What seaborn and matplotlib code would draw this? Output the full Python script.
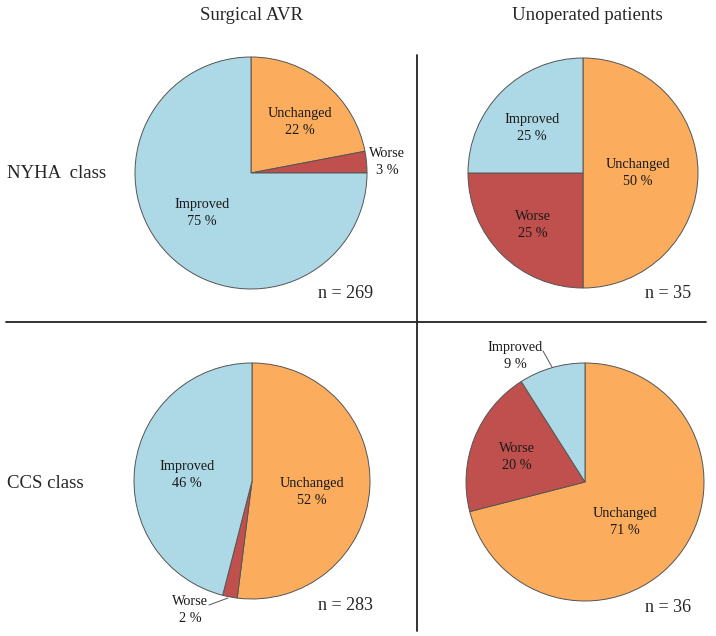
#Cuatro tortas: evolucion de clase NYHA y CCS, AVR quirurgico vs pacientes no operados
import matplotlib
matplotlib.use("Agg")
import matplotlib.pyplot as plt
import seaborn as sns

categorias = ["Unchanged", "Worse", "Improved"]
nyha_quirurgico = [22, 3, 75]
nyha_no_operado = [50, 25, 25]
ccs_quirurgico = [52, 2, 46]
ccs_no_operado = [71, 20, 9]
n_pacientes = [269, 35, 283, 36]
titulos_columnas = ["Surgical AVR", "Unoperated patients"]
titulos_filas = ["NYHA  class", "CCS class"]

colores = {"Unchanged": "#FBAC5D", "Worse": "#C0504D", "Improved": "#ADD8E6"}

W, H = 716, 636

sns.set_theme(style="white")
plt.rcParams['font.family'] = ['Liberation Serif', 'DejaVu Serif']


def Y(y):
    # coordenadas de pixel con origen arriba
    return H - y


def dibujar_torta(ax, valores, centro, radio, posiciones, n, pos_n):
    ax.pie(valores, colors=[colores[c] for c in categorias], startangle=90,
           counterclock=False, center=(centro[0], Y(centro[1])), radius=radio,
           wedgeprops=dict(edgecolor="#555555", linewidth=0.7))
    for cat, val, pos in zip(categorias, valores, posiciones):
        ax.text(pos[0], Y(pos[1]), f"{cat}\n{val} %", ha="center", va="center",
                fontsize=10.3, linespacing=1.35, color="#1a1a1a")
    ax.text(pos_n[0], Y(pos_n[1]), f"n = {n}", ha="center", va="center", fontsize=13)


fig = plt.figure(figsize=(W / 100, H / 100), dpi=100)
ax = fig.add_axes([0, 0, 1, 1])

dibujar_torta(ax, nyha_quirurgico, (251, 173), 116,
              [(300, 122), (387, 162), (202, 213)], n_pacientes[0], (346, 293))
dibujar_torta(ax, nyha_no_operado, (583, 173), 115,
              [(638, 173), (533, 225), (532, 128)], n_pacientes[1], (668, 293))
dibujar_torta(ax, ccs_quirurgico, (252, 481), 118,
              [(312, 492), (190, 610), (187, 475)], n_pacientes[2], (346, 605))
dibujar_torta(ax, ccs_no_operado, (585, 482), 119,
              [(625, 522), (517, 457), (515, 356)], n_pacientes[3], (668, 607))

# lineas guia de las etiquetas externas
ax.plot([209, 228], [Y(605), Y(598)], color="#555555", lw=0.7)
ax.plot([543, 552], [Y(351), Y(367)], color="#555555", lw=0.7)

# titulos
ax.text(251, Y(16), titulos_columnas[0], ha="center", va="center", fontsize=13.5)
ax.text(587, Y(16), titulos_columnas[1], ha="center", va="center", fontsize=13.5)
ax.text(7, Y(173), titulos_filas[0], ha="left", va="center", fontsize=13.5)
ax.text(7, Y(483), titulos_filas[1], ha="left", va="center", fontsize=13.5)

# divisores
ax.plot([6, 706], [Y(322), Y(322)], color="#222222", lw=1.3)
ax.plot([417, 417], [Y(55), Y(631)], color="#222222", lw=1.3)

ax.set_xlim(0, W)
ax.set_ylim(0, H)
ax.set_aspect("auto")
ax.axis("off")

fig.savefig("out.png", dpi=100, facecolor="white")
